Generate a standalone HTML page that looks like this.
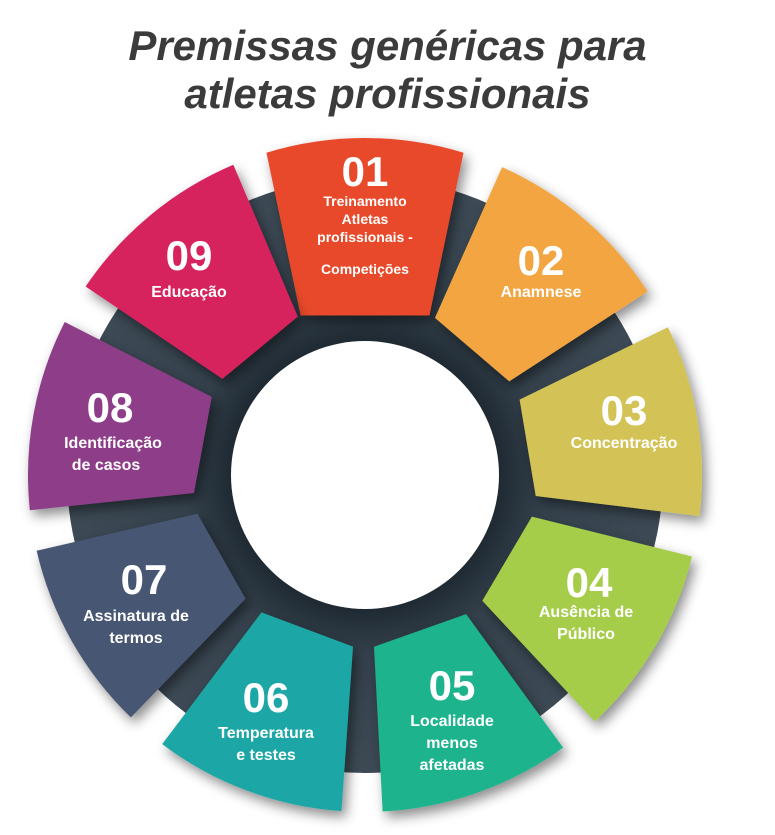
<!DOCTYPE html>
<html><head><meta charset="utf-8"><style>
html,body{margin:0;padding:0;background:#fff;}
body{width:775px;height:835px;position:relative;overflow:hidden;font-family:"Liberation Sans",sans-serif;}
h1{position:absolute;left:0;width:775px;top:22px;margin:0;text-align:center;font-size:42px;line-height:48px;font-style:italic;font-weight:bold;color:#3b3b3b;}
svg{position:absolute;left:0;top:0;}
</style></head><body>
<h1>Premissas genéricas para<br>atletas profissionais</h1>
<svg width="775" height="835" viewBox="0 0 775 835" id="s">
<defs>
<radialGradient id="rg" cx="365" cy="475" r="300" gradientUnits="userSpaceOnUse">
<stop offset="0.45" stop-color="#1f2a33"/><stop offset="0.6" stop-color="#34414c"/><stop offset="1" stop-color="#3d4a55"/>
</radialGradient>
<filter id="sh" x="-30%" y="-30%" width="160%" height="160%"><feDropShadow dx="4" dy="6" stdDeviation="6" flood-color="#000" flood-opacity="0.45"/></filter>
</defs>
<circle cx="365" cy="475" r="298" fill="url(#rg)"/>
<g id="segs"></g>
<circle cx="365" cy="475" r="134" fill="#fff"/>
<g fill="#fff" font-family="Liberation Sans,sans-serif" font-weight="bold" text-anchor="middle">
<text x="365" y="186" font-size="42">01</text>
<text x="365" y="206" font-size="14">Treinamento</text>
<text x="365" y="224" font-size="14">Atletas</text>
<text x="365" y="242" font-size="14">profissionais -</text>
<text x="365" y="274" font-size="14">Competições</text>
<text x="541" y="275" font-size="42">02</text>
<text x="541" y="297" font-size="16">Anamnese</text>
<text x="624" y="425" font-size="42">03</text>
<text x="624" y="448" font-size="16">Concentração</text>
<text x="589" y="597" font-size="42">04</text>
<text x="586" y="617" font-size="16">Ausência de</text>
<text x="586" y="639" font-size="16">Público</text>
<text x="452" y="700" font-size="42">05</text>
<text x="452" y="726" font-size="16">Localidade</text>
<text x="452" y="748" font-size="16">menos</text>
<text x="452" y="770" font-size="16">afetadas</text>
<text x="266" y="712" font-size="42">06</text>
<text x="266" y="738" font-size="16">Temperatura</text>
<text x="266" y="760" font-size="16">e testes</text>
<text x="144" y="594" font-size="42">07</text>
<text x="136" y="621" font-size="16">Assinatura de</text>
<text x="136" y="643" font-size="16">termos</text>
<text x="110" y="422" font-size="42">08</text>
<text x="113" y="448" font-size="16">Identificação</text>
<text x="106" y="470" font-size="16">de casos</text>
<text x="189" y="270" font-size="42">09</text>
<text x="189" y="297" font-size="16">Educação</text>
</g>
</svg>
<script>
var cols=["#e8492a","#f2a541","#d3c356","#a6cd48","#1db38d","#1ea7a6","#475672","#8e3d89","#d6235d"];
var cx=365,cy=475,g=document.getElementById("segs"),h="";
function P(r,a){a=a*Math.PI/180;return [cx+r*Math.cos(a),cy+r*Math.sin(a)];}
for(var i=0;i<9;i++){var c=-90+40*i+(i?0.5:0);
var ho=i?16.5:17,hi=i?16.5:22;
var o1=P(337,c-ho),o2=P(337,c+ho),i2=P(172,c+hi),i1=P(172,c-hi);
h+='<path filter="url(#sh)" fill="'+cols[i]+'" d="M'+o1.join(",")+' A337,337 0 0 1 '+o2.join(",")+' L'+i2.join(",")+' L'+i1.join(",")+' Z"/>';}
g.innerHTML=h;
</script>
</body></html>
